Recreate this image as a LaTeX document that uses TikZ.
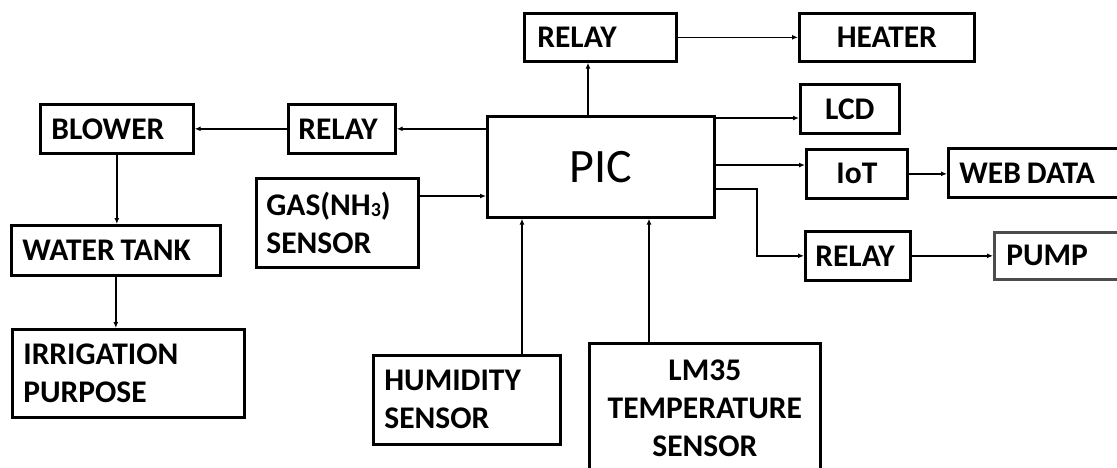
\documentclass[tikz,border=0pt]{standalone}
\usepackage{fontspec}
\setmainfont{Carlito}
\usetikzlibrary{arrows.meta}
\newcommand\narrowspace{\spaceskip=6pt plus 1pt minus 1pt\relax}
\tikzset{
  blk/.style={draw, line width=2.7pt, rectangle, anchor=north west, inner ysep=0pt,
    font=\fontsize{31.5}{38}\selectfont\bfseries, execute at begin node=\narrowspace},
  lft/.style={align=left},
  ctr/.style={align=center},
  conn/.style={line width=1.4pt, -{Latex[length=6pt,width=5pt]}},
}
\begin{document}
\begin{tikzpicture}[x=1pt,y=-1pt]
\useasboundingbox (0,0) rectangle (1117,467);
\clip (0,0) rectangle (1117,467);
% helper coordinates for connector positions
\coordinate (cR) at (588,0);
\coordinate (yL) at (0,118);
\coordinate (yI) at (0,165);
\coordinate (yP) at (0,189);
\coordinate (xB) at (757,0);
\coordinate (yG) at (0,196);
\coordinate (xH) at (522,0);
\coordinate (xT) at (649,0);
% blocks
\node[blk, minimum width=227pt, minimum height=101pt, text width=217pt, inner xsep=5pt, ctr,
      font=\fontsize{48}{50}\selectfont] (pic) at (486,115) {PIC};
\node[blk, lft, minimum width=152pt, minimum height=48pt, text width=126pt, inner xsep=13pt] (relayT) at (523,12) {RELAY};
\node[blk, ctr, minimum width=175pt, minimum height=48pt, text width=165pt, inner xsep=5pt] (heater) at (798,12) {HEATER};
\node[blk, ctr, minimum width=99pt, minimum height=49pt, text width=89pt, inner xsep=5pt] (lcd) at (799,83) {LCD};
\node[blk, ctr, minimum width=101pt, minimum height=49pt, text width=91pt, inner xsep=5pt] (iot) at (805,148) {IoT};
\node[blk, lft, minimum width=200pt, minimum height=49pt, text width=178pt, inner xsep=11pt] (web) at (947,147) {WEB DATA};
\node[blk, lft, minimum width=105pt, minimum height=49pt, text width=85pt, inner xsep=10pt] (relayP) at (804,230) {RELAY};
\node[blk, lft, minimum width=160pt, minimum height=47pt, text width=136pt, inner xsep=12pt, draw=black!70] (pump) at (993,231) {PUMP};
\node[blk, lft, minimum width=153pt, minimum height=49pt, text width=131pt, inner xsep=11pt] (blower) at (39,103) {BLOWER};
\node[blk, lft, minimum width=107pt, minimum height=49pt, text width=87pt, inner xsep=10pt] (relayL) at (287,103) {RELAY};
\node[blk, lft, minimum width=209pt, minimum height=50pt, text width=187pt, inner xsep=11pt] (tank) at (10,224) {WATER TANK};
\node[blk, lft, minimum width=162pt, minimum height=89pt, text width=142pt, inner xsep=10pt] (gas) at (255,177)
  {GAS(NH\raisebox{-1pt}{\fontsize{20}{20}\selectfont 3})\\SENSOR};
\node[blk, lft, minimum width=232pt, minimum height=88pt, text width=210pt, inner xsep=11pt] (irr) at (11,328) {IRRIGATION\\PURPOSE};
\node[blk, lft, minimum width=187pt, minimum height=89pt, text width=165pt, inner xsep=11pt] (hum) at (372,354) {HUMIDITY\\SENSOR};
\node[blk, ctr, minimum width=231pt, minimum height=130pt, text width=211pt, inner xsep=10pt] (lm) at (588,342) {LM35\\TEMPERATURE\\SENSOR};
% connectors
\draw[conn] (pic.north -| cR) -- (relayT.south -| cR);
\draw[conn] (relayT.east) -- (heater.west |- relayT.east);
\draw[conn] (pic.east |- yL) -- (lcd.west |- yL);
\draw[conn] (pic.east |- yI) -- (iot.west |- yI);
\draw[conn] (iot.east) -- (web.west |- iot.east);
\draw[conn] (pic.east |- yP) -| (relayP.west -| xB) -- (relayP.west);
\draw[conn] (relayP.east) -- (pump.west |- relayP.east);
\draw[conn] (pic.west |- relayL.east) -- (relayL.east);
\draw[conn] (relayL.west) -- (blower.east |- relayL.west);
\draw[conn] (blower.south) -- (blower.south |- tank.north);
\draw[conn] (tank.south) -- (tank.south |- irr.north);
\draw[conn] (gas.east |- yG) -- (pic.west |- yG);
\draw[conn] (hum.north -| xH) -- (pic.south -| xH);
\draw[conn] (lm.north -| xT) -- (pic.south -| xT);
\end{tikzpicture}
\end{document}
